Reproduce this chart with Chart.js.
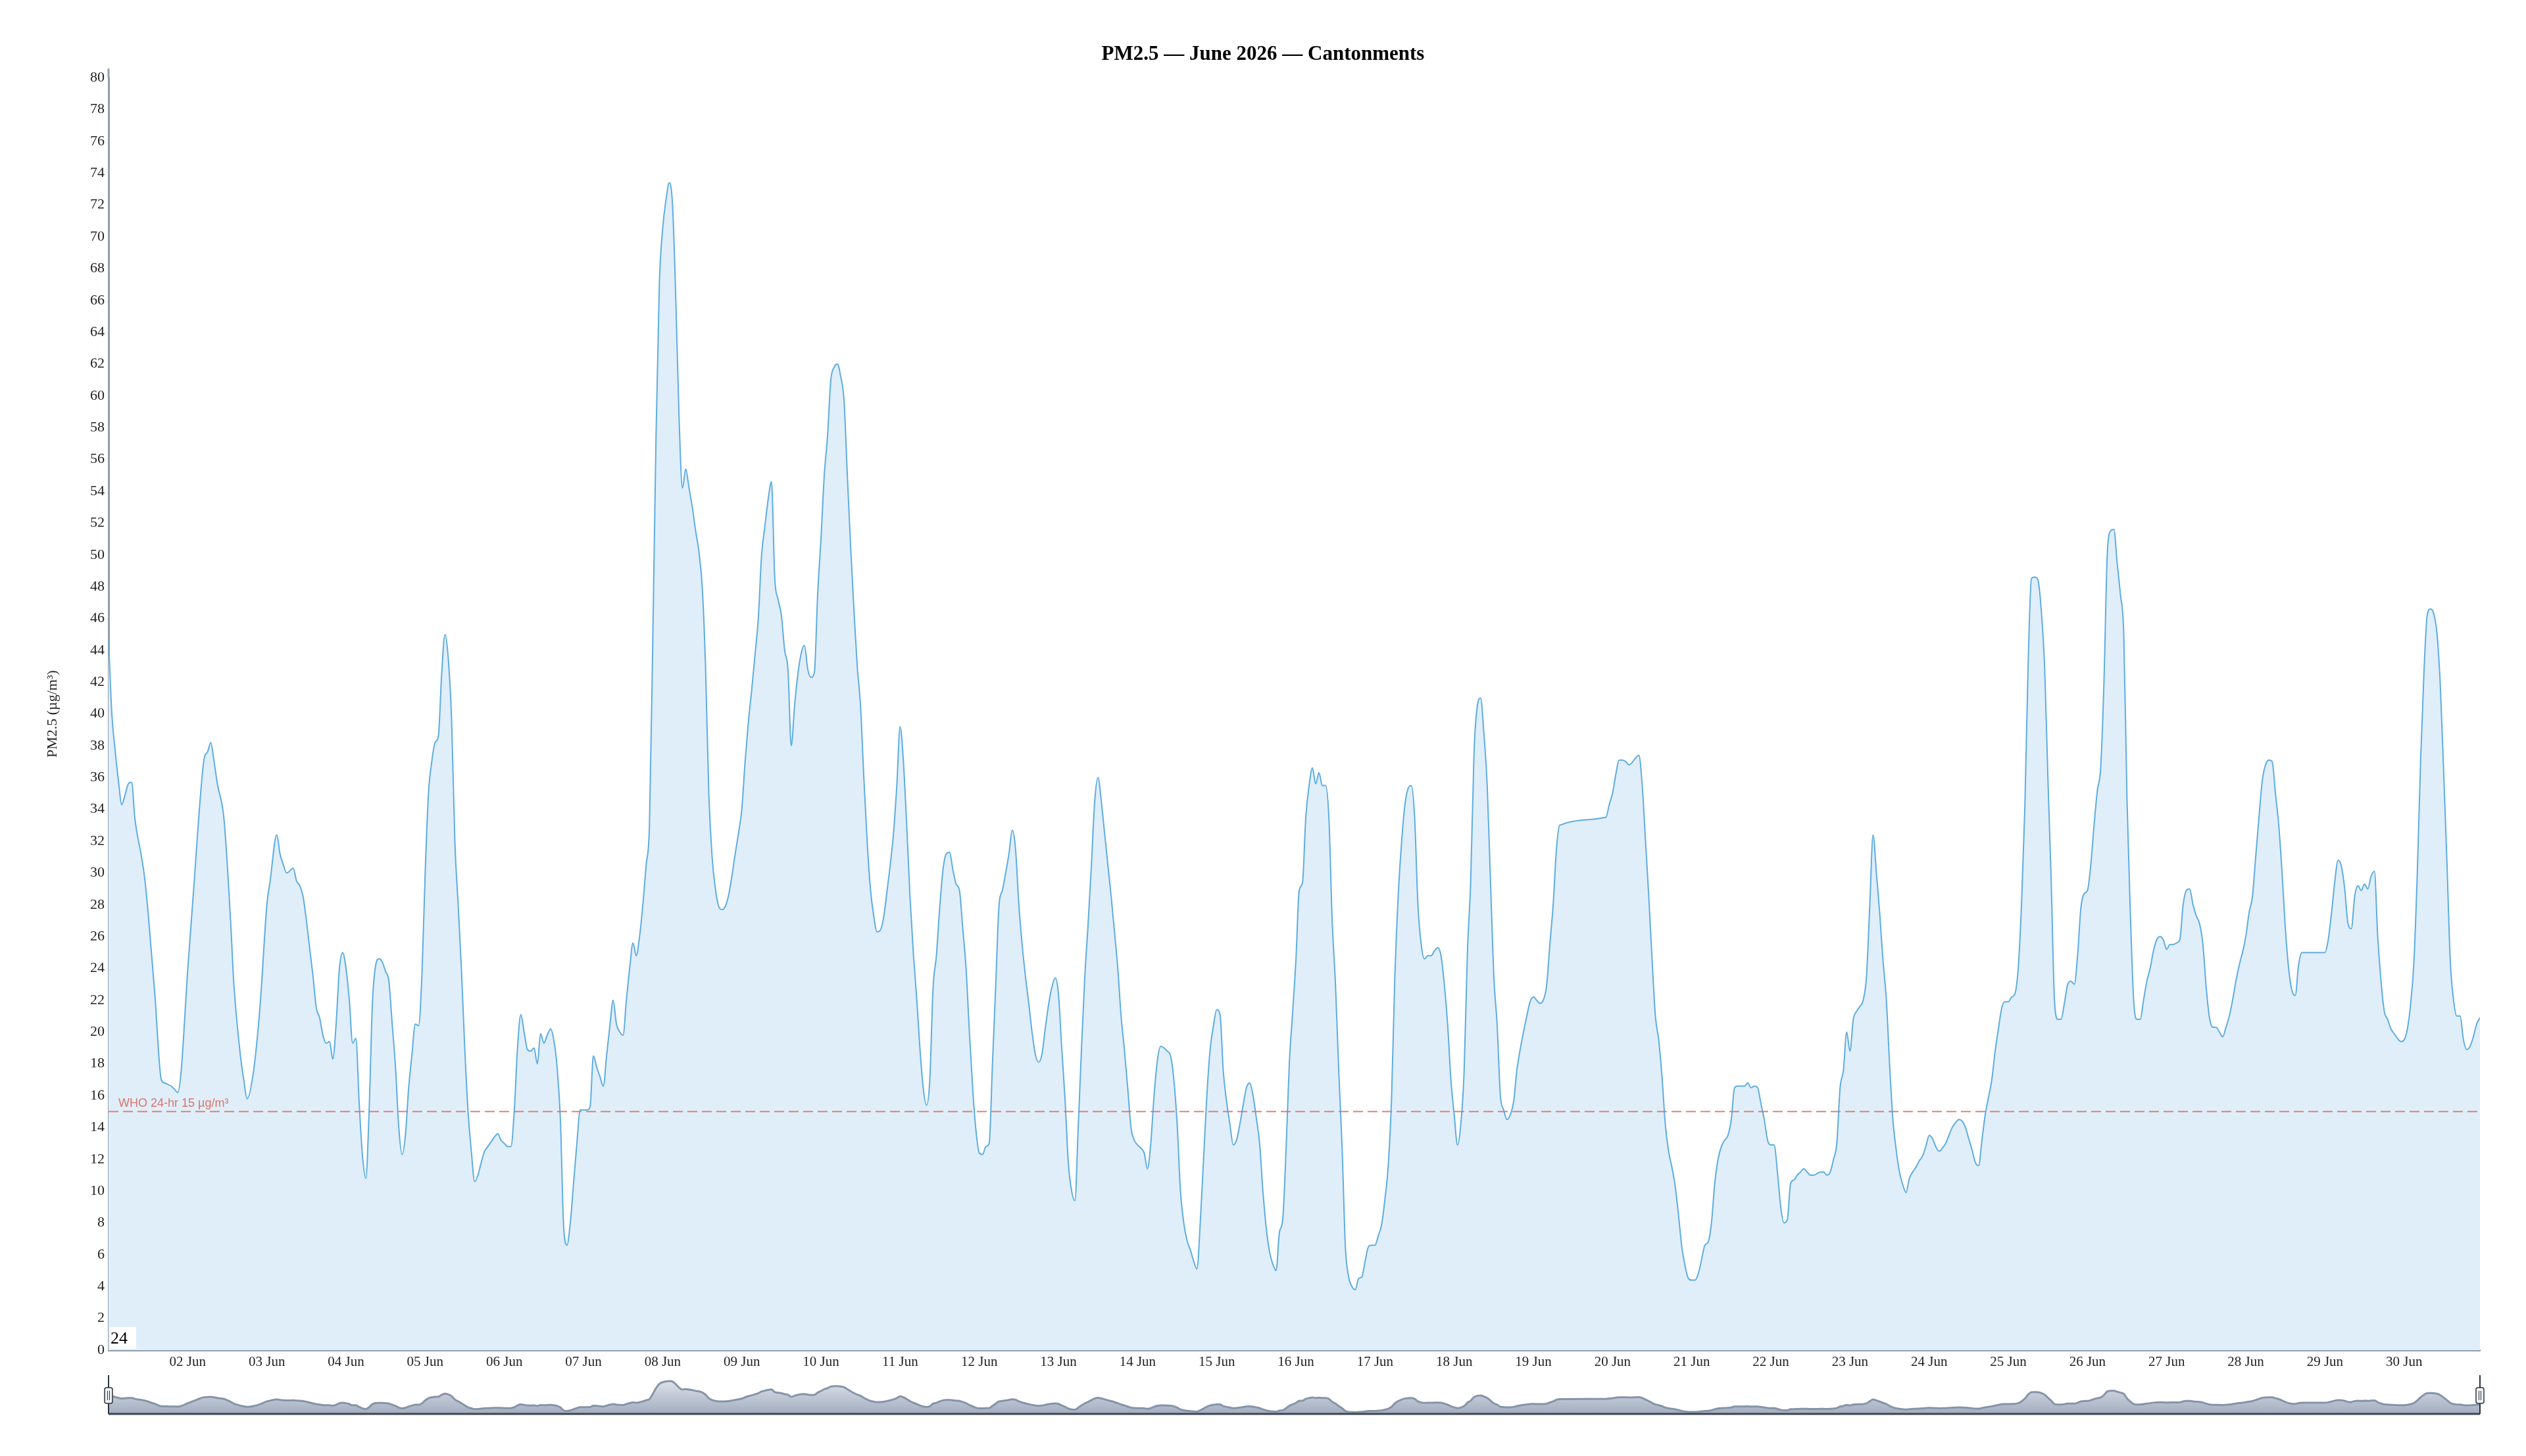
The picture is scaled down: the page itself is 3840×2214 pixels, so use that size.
<!DOCTYPE html>
<html>
<head>
<meta charset="utf-8">
<title>PM2.5 — June 2026 — Cantonments</title>
<script src="https://cdn.jsdelivr.net/npm/chart.js@4.4.1/dist/chart.umd.min.js"></script>
<style>
  html, body { margin: 0; padding: 0; background: #fff; }
  #wrap { position: relative; width: 3840px; height: 2214px; }
  #mainChart { position: absolute; left: 0; top: 0; }
  #navChart { position: absolute; left: 0; top: 2080px; }
</style>
</head>
<body>
<div id="wrap">
  <canvas id="mainChart" width="3840" height="2214"></canvas>
  <canvas id="navChart" width="3840" height="90"></canvas>
</div>
<script>
// Text
const chartTitle = 'PM2.5 — June 2026 — Cantonments';
const yTitle = 'PM2.5 (µg/m³)';
const whoLabel = 'WHO 24-hr 15 µg/m³';
const whoLimit = 15;
const cornerNote = '24';

// Hours since 01 Jun 00:00 (one row per day)
const hours = [
  0, 1, 2, 3, 4, 5, 6, 7, 8, 10, 11, 12, 14, 16, 17, 18, 19, 20, 21, 22,
  24, 26, 27, 29, 30, 31, 32, 33, 35, 37, 38, 40, 41, 42, 44, 46,
  48, 49, 51, 52, 53, 54, 56, 57, 58, 59, 60, 62, 63, 64, 65, 66, 67, 68, 69, 70, 71,
  72, 73, 74, 75, 76, 77, 78, 79, 80, 81, 82, 83, 84, 85, 86, 87, 88, 89, 90, 91, 92, 93, 94, 95,
  96, 97, 98, 99, 100, 101, 102, 103, 104, 105, 106, 107, 108, 109, 110, 111, 112, 113, 114, 115, 116, 117, 118, 119,
  120, 121, 122, 123, 124, 125, 126, 127, 128, 129, 130, 131, 132, 133, 134, 135, 136, 137, 138, 139, 140, 141, 142, 143,
  144, 145, 146, 147, 148, 149, 150, 151, 152, 153, 154, 155, 156, 157, 158, 159, 160, 161, 162, 163, 164, 165, 166, 167,
  168, 169, 170, 171, 172, 173, 174, 175, 176, 177, 178, 179, 180, 181, 182, 183, 184, 185, 186, 187, 188, 189, 190, 191,
  192, 193, 194, 195, 196, 197, 198, 199, 200, 201, 202, 203, 204, 205, 206, 207, 208, 209, 210, 211, 212, 213, 214, 215,
  216, 217, 218, 219, 220, 221, 222, 223, 224, 225, 226, 227, 228, 229, 230, 231, 232, 233, 234, 235, 236, 237, 238, 239,
  240, 241, 242, 243, 244, 245, 246, 247, 248, 249, 250, 251, 252, 253, 254, 255, 256, 257, 258, 259, 260, 261, 262, 263,
  264, 265, 266, 267, 268, 269, 270, 271, 272, 273, 274, 275, 276, 277, 278, 279, 280, 281, 282, 283, 284, 285, 286, 287,
  288, 289, 290, 291, 292, 293, 294, 295, 296, 297, 298, 299, 300, 301, 302, 303, 304, 305, 306, 307, 308, 309, 310, 311,
  312, 313, 314, 315, 316, 317, 318, 319, 320, 321, 322, 323, 324, 325, 326, 327, 328, 329, 330, 331, 332, 333, 334, 335,
  336, 337, 338, 339, 340, 341, 342, 343, 344, 345, 346, 347, 348, 349, 350, 351, 352, 353, 354, 355, 356, 357, 358, 359,
  360, 361, 362, 363, 364, 365, 366, 367, 368, 369, 370, 371, 372, 373, 374, 375, 376, 377, 378, 379, 380, 381, 382, 383,
  384, 385, 386, 387, 388, 389, 390, 391, 392, 393, 394, 395, 396, 397, 398, 399, 400, 401, 402, 403, 404, 405, 406, 407,
  408, 409, 410, 411, 412, 413, 414, 415, 416, 417, 418, 419, 420, 421, 422, 423, 424, 425, 426, 427, 428, 429, 430, 431,
  432, 433, 434, 435, 436, 437, 438, 439, 440, 454, 455,
  456, 457, 458, 459, 460, 461, 464, 465, 466, 467, 468, 469, 470, 471, 472, 473, 474, 475, 476, 477, 478, 479,
  480, 481, 482, 483, 484, 485, 486, 487, 488, 489, 490, 491, 492, 493, 494, 495, 496, 497, 498, 499, 500, 501, 502, 503,
  504, 505, 506, 507, 508, 509, 510, 511, 512, 513, 514, 515, 516, 517, 518, 519, 520, 521, 522, 523, 524, 525, 526, 527,
  528, 529, 530, 531, 532, 533, 534, 535, 536, 537, 538, 539, 540, 541, 542, 543, 544, 545, 546, 547, 548, 549, 550, 551,
  552, 553, 554, 555, 556, 557, 558, 559, 560, 561, 562, 563, 564, 565, 566, 567, 568, 569, 570, 571, 572, 573, 574, 575,
  576, 577, 578, 579, 580, 581, 582, 583, 584, 585, 586, 587, 588, 589, 590, 591, 592, 593, 594, 595, 596, 597, 598, 599,
  600, 601, 602, 603, 604, 605, 606, 607, 608, 609, 610, 611, 612, 613, 614, 615, 616, 617, 618, 619, 620, 621, 622, 623,
  624, 625, 626, 627, 628, 629, 630, 631, 632, 633, 634, 635, 636, 637, 638, 639, 640, 641, 642, 643, 644, 645, 646, 647,
  648, 649, 650, 651, 652, 653, 654, 655, 656, 657, 658, 659, 660, 661, 662, 663, 664, 665,
  672, 673, 674, 675, 676, 677, 678, 679, 680, 681, 682, 683, 684, 685, 686, 687, 688, 689, 690, 691, 692, 693, 694, 695,
  696, 697, 698, 699, 700, 701, 702, 703, 704, 705, 706, 707, 708, 709, 710, 711, 712, 713, 714, 715, 716, 717, 718, 719
];

// PM2.5 (µg/m³), same rows as hours
const pm25 = [
  44.7, 40.0, 37.7, 35.8, 34.3, 34.9, 35.6, 35.7, 33.4, 31.0, 29.6, 27.5, 22.5, 17.0, 16.8, 16.7, 16.6, 16.4, 16.2, 17.5,
  23.9, 29.5, 32.5, 37.2, 37.6, 38.2, 37.0, 35.6, 33.4, 27.0, 23.0, 18.5, 17.0, 15.8, 17.6, 21.8,
  28.0, 29.5, 32.4, 31.2, 30.5, 30.0, 30.3, 29.5, 29.2, 28.5, 27.0, 23.5, 21.5, 20.9, 19.8, 19.3, 19.4, 18.3, 20.5, 24.0, 25.0,
  24.0, 22.0, 19.3, 19.6, 15.5, 12.2, 10.8, 15.0, 21.8, 24.2, 24.6, 24.4, 23.8, 23.2, 20.5, 17.8, 14.0, 12.3, 13.5, 16.5, 18.6, 20.5, 20.4, 23.5,
  30.0, 35.0, 37.0, 38.2, 38.6, 42.5, 45.0, 43.5, 39.7, 32.0, 28.0, 23.9, 19.0, 15.0, 12.5, 10.6, 11.0, 11.8, 12.5, 12.8, 13.1, 13.4, 13.6, 13.2,
  13.0, 12.8, 12.8, 15.0, 19.0, 21.1, 20.0, 18.9, 18.8, 19.0, 18.0, 19.9, 19.3, 19.8, 20.2, 19.5, 17.8, 14.5, 7.7, 6.6, 8.0, 10.5, 13.0, 15.1,
  15.1, 15.1, 15.3, 18.5, 17.8, 17.2, 16.6, 18.5, 20.4, 22.0, 20.5, 20.0, 19.8, 22.0, 24.0, 25.6, 24.8, 26.0, 28.0, 30.5, 33.0, 44.5, 57.5, 67.0,
  70.5, 72.3, 73.4, 72.0, 66.0, 58.5, 54.2, 55.4, 54.2, 53.0, 51.5, 50.2, 48.0, 43.0, 35.0, 31.0, 29.0, 27.9, 27.7, 27.9, 28.6, 29.8, 31.2, 32.5,
  34.0, 37.0, 39.5, 41.5, 43.7, 46.0, 50.0, 51.8, 53.5, 54.6, 48.5, 47.2, 46.2, 44.0, 42.8, 38.0, 40.5, 42.5, 43.8, 44.3, 42.8, 42.3, 42.6, 47.5,
  51.0, 55.0, 57.5, 61.0, 61.8, 62.0, 61.2, 59.7, 55.0, 50.5, 46.5, 43.0, 40.5, 36.0, 32.0, 29.0, 27.3, 26.3, 26.4, 27.2, 28.8, 30.5, 32.5, 35.5,
  39.2, 37.0, 33.0, 28.5, 25.0, 22.2, 19.0, 16.5, 15.4, 17.0, 22.8, 24.8, 27.8, 30.2, 31.2, 31.3, 30.2, 29.3, 28.9, 26.5, 24.0, 20.0, 16.5, 13.8,
  12.4, 12.3, 12.8, 13.0, 18.0, 23.0, 28.0, 28.9, 30.0, 31.2, 32.7, 31.5, 28.0, 25.5, 23.5, 21.8, 20.0, 18.6, 18.1, 18.6, 20.2, 21.7, 22.8, 23.4,
  22.4, 19.0, 15.8, 11.8, 10.0, 9.4, 14.0, 19.0, 23.5, 26.8, 30.5, 34.5, 36.0, 34.5, 32.5, 30.5, 28.5, 26.3, 24.0, 21.0, 18.9, 16.5, 14.0, 13.2,
  12.9, 12.7, 12.4, 11.4, 13.0, 16.0, 18.2, 19.1, 19.0, 18.8, 18.5, 17.0, 14.2, 10.0, 8.0, 6.9, 6.3, 5.6, 5.1, 8.0, 12.0, 16.0, 18.9, 20.4,
  21.4, 21.1, 17.5, 15.6, 14.2, 12.9, 13.2, 14.2, 15.4, 16.5, 16.8, 16.0, 14.6, 13.0, 10.0, 7.7, 6.2, 5.4, 5.0, 7.4, 8.2, 12.5, 18.0, 21.2,
  24.5, 28.9, 29.4, 33.5, 35.5, 36.6, 35.6, 36.3, 35.5, 35.5, 33.5, 27.0, 23.0, 17.5, 12.8, 6.5, 4.6, 4.0, 3.8, 4.5, 4.6, 5.6, 6.5, 6.6,
  6.6, 7.2, 7.9, 9.5, 11.6, 15.8, 23.5, 28.5, 31.8, 34.2, 35.3, 35.5, 33.5, 28.0, 25.5, 24.6, 24.8, 24.8, 25.1, 25.3, 24.8, 23.0, 20.5, 17.0,
  14.8, 12.9, 14.2, 17.5, 25.0, 29.5, 37.5, 40.5, 41.0, 38.8, 35.5, 29.5, 23.5, 20.5, 16.0, 15.1, 14.5, 14.8, 15.6, 17.6, 18.9, 20.0, 21.0, 21.9,
  22.2, 22.0, 21.8, 22.0, 22.9, 25.5, 28.0, 31.5, 33.0, 33.5, 34.3,
  35.0, 36.2, 37.1, 37.1, 37.0, 36.8, 37.4, 35.5, 32.0, 28.5, 24.5, 21.0, 19.5, 17.2, 14.2, 12.5, 11.5, 10.3, 8.5, 6.5, 5.3, 4.5,
  4.4, 4.4, 4.8, 5.7, 6.6, 6.8, 8.0, 10.5, 12.0, 12.8, 13.2, 13.5, 14.5, 16.5, 16.6, 16.6, 16.6, 16.8, 16.5, 16.6, 16.5, 15.5, 14.5, 13.2,
  12.9, 12.9, 11.2, 9.0, 8.0, 8.2, 10.5, 10.7, 11.0, 11.2, 11.4, 11.2, 11.0, 11.0, 11.1, 11.2, 11.2, 11.0, 11.2, 12.0, 13.0, 16.5, 17.6, 20.0,
  18.8, 20.8, 21.3, 21.6, 22.0, 23.5, 28.0, 32.4, 30.0, 27.5, 24.5, 22.1, 18.0, 14.5, 12.6, 11.2, 10.4, 9.9, 10.8, 11.2, 11.5, 11.9, 12.2, 12.8,
  13.5, 13.3, 12.8, 12.5, 12.7, 13.0, 13.5, 14.0, 14.3, 14.5, 14.4, 14.0, 13.3, 12.6, 11.8, 11.6, 13.2, 14.8, 15.9, 17.0, 18.8, 20.2, 21.5, 21.9,
  21.9, 22.2, 22.4, 24.0, 28.0, 34.0, 43.0, 48.5, 48.6, 48.4, 46.5, 43.0, 36.0, 29.5, 22.0, 20.8, 20.8, 21.8, 23.0, 23.2, 23.0, 24.8, 27.8, 28.7,
  28.9, 30.5, 33.0, 35.2, 36.6, 42.0, 50.0, 51.5, 51.6, 49.5, 47.5, 45.0, 34.5, 27.5, 22.0, 20.8, 20.8, 22.0, 23.2, 24.0, 25.1, 25.8, 26.0, 25.8,
  25.2, 25.5, 25.5, 25.6, 25.8, 28.0, 28.9, 29.0, 28.0, 27.3, 26.8, 25.5, 22.8, 20.9, 20.3, 20.3, 20.0, 19.7, 20.3, 21.0, 22.0, 23.2, 24.2, 25.0,
  26.0, 27.5, 28.5, 31.0, 33.5, 35.8, 36.8, 37.1, 37.0, 35.0, 33.0, 30.0, 26.5, 24.0, 22.6, 22.3, 24.2, 25.0,
  25.0, 25.8, 27.5, 29.5, 30.8, 30.4, 29.0, 26.8, 26.5, 28.5, 29.2, 28.9, 29.3, 29.0, 29.8, 30.1, 26.0, 23.2, 21.3, 20.8, 20.2, 19.9, 19.6, 19.4,
  19.5, 20.2, 21.8, 24.5, 30.0, 37.0, 42.5, 46.2, 46.6, 46.3, 45.0, 41.7, 36.3, 30.6, 24.5, 22.0, 21.0, 21.0, 19.5, 18.9, 19.1, 19.7, 20.5, 20.9
];

// Day ticks on the x axis
const tickHours = [24, 48, 72, 96, 120, 144, 168, 192, 216, 240, 264, 288, 312, 336, 360,
  384, 408, 432, 456, 480, 504, 528, 552, 576, 600, 624, 648, 672, 696];
const tickLabels = ['02 Jun', '03 Jun', '04 Jun', '05 Jun', '06 Jun', '07 Jun', '08 Jun', '09 Jun', '10 Jun', '11 Jun',
  '12 Jun', '13 Jun', '14 Jun', '15 Jun', '16 Jun', '17 Jun', '18 Jun', '19 Jun', '20 Jun', '21 Jun',
  '22 Jun', '23 Jun', '24 Jun', '25 Jun', '26 Jun', '27 Jun', '28 Jun', '29 Jun', '30 Jun'];

if (hours.length !== pm25.length) {
  console.error('hours / pm25 length mismatch', hours.length, pm25.length);
}

const points = hours.map((h, i) => ({ x: h, y: pm25[i] }));
const firstHour = hours[0];
const lastHour = hours[hours.length - 1];

const SERIF = '"Liberation Serif", "Times New Roman", Times, serif';
const SANS = '"Liberation Sans", Arial, Helvetica, sans-serif';
const axisColor = '#929eac';

// WHO label sits just above the dashed line
const whoLabelPlugin = {
  id: 'whoLabel',
  afterDatasetsDraw(chart) {
    const { ctx, chartArea, scales } = chart;
    const y = scales.y.getPixelForValue(whoLimit);
    ctx.save();
    ctx.font = '18px ' + SANS;
    ctx.fillStyle = 'rgba(214, 104, 88, 0.9)';
    ctx.textBaseline = 'bottom';
    ctx.fillText(whoLabel, chartArea.left + 15, y - 3);
    ctx.restore();
  }
};

// boxed note in the bottom-left corner, plus the little axis stub above 80
const cornerNotePlugin = {
  id: 'cornerNote',
  afterDraw(chart) {
    const { ctx, chartArea } = chart;
    ctx.save();
    ctx.strokeStyle = axisColor;
    ctx.lineWidth = 3;
    ctx.beginPath();
    ctx.moveTo(chartArea.left, chartArea.top - 14);
    ctx.lineTo(chartArea.left, chartArea.top);
    ctx.stroke();

    ctx.fillStyle = '#fff';
    ctx.fillRect(chartArea.left + 2, chartArea.bottom - 35, 40, 33);
    ctx.font = '26px ' + SERIF;
    ctx.fillStyle = '#000';
    ctx.textBaseline = 'alphabetic';
    ctx.fillText(cornerNote, chartArea.left + 3, chartArea.bottom - 10);
    ctx.restore();
  }
};

const mainChart = new Chart(document.getElementById('mainChart'), {
  type: 'line',
  data: {
    datasets: [{
      label: 'PM2.5',
      data: points,
      borderColor: '#5dade2',
      backgroundColor: '#e0eefa',
      borderWidth: 2,
      fill: 'origin',
      pointRadius: 0,
      cubicInterpolationMode: 'monotone',
      order: 2
    }, {
      label: whoLabel,
      data: [{ x: firstHour, y: whoLimit }, { x: lastHour, y: whoLimit }],
      borderColor: 'rgba(222, 110, 95, 0.85)',
      borderWidth: 2,
      borderDash: [15, 7],
      pointRadius: 0,
      fill: false,
      order: 1
    }]
  },
  options: {
    responsive: false,
    animation: false,
    layout: { padding: 0 },
    plugins: {
      legend: { display: false },
      tooltip: { enabled: false },
      title: {
        display: true,
        text: chartTitle,
        color: '#000',
        font: { family: SERIF, size: 31, weight: 'bold', lineHeight: 1.2 },
        padding: { top: 64, bottom: 17 }
      }
    },
    scales: {
      x: {
        type: 'linear',
        min: firstHour,
        max: lastHour,
        afterFit(scale) { scale.height = 161; },
        afterBuildTicks(scale) { scale.ticks = tickHours.map(v => ({ value: v })); },
        grid: { display: false, drawTicks: false },
        border: { display: true, color: axisColor, width: 3 },
        ticks: {
          autoSkip: false,
          maxRotation: 0,
          padding: 6,
          color: '#222',
          font: { family: SERIF, size: 21 },
          callback: (value, index) => tickLabels[index]
        }
      },
      y: {
        min: 0,
        max: 80,
        afterFit(scale) { scale.width = 165; },
        grid: { display: false, drawTicks: false },
        border: { display: true, color: axisColor, width: 3 },
        ticks: { stepSize: 2, padding: 6, color: '#222', font: { family: SERIF, size: 22 } },
        title: {
          display: true,
          text: yTitle,
          color: '#222',
          font: { family: SERIF, size: 22 },
          padding: { top: 67, bottom: 0 }
        }
      },
      // empty right-hand margin so the title stays centred on the page
      yRight: {
        position: 'right',
        min: 0,
        max: 80,
        afterFit(scale) { scale.width = 70; },
        grid: { display: false, drawTicks: false },
        border: { display: false },
        ticks: { display: false }
      }
    }
  },
  plugins: [whoLabelPlugin, cornerNotePlugin]
});

// overview strip under the chart: baseline and the two range handles
const navDecorPlugin = {
  id: 'navDecor',
  afterDatasetsDraw(chart) {
    const { ctx, chartArea: a } = chart;
    ctx.save();
    ctx.strokeStyle = '#3e4550';
    ctx.lineWidth = 3;
    ctx.beginPath();
    ctx.moveTo(a.left, a.bottom);
    ctx.lineTo(a.right, a.bottom);
    ctx.stroke();
    [a.left, a.right].forEach(x => {
      ctx.strokeStyle = '#2e343d';
      ctx.lineWidth = 2;
      ctx.beginPath();
      ctx.moveTo(x, a.top - 1);
      ctx.lineTo(x, a.bottom);
      ctx.stroke();
      const w = 12, h = 24, top = a.top + 18;
      ctx.beginPath();
      ctx.roundRect(x - w / 2, top, w, h, 3);
      ctx.fillStyle = '#eef0f3';
      ctx.fill();
      ctx.lineWidth = 1.5;
      ctx.strokeStyle = '#2e343d';
      ctx.stroke();
      ctx.lineWidth = 1;
      ctx.beginPath();
      ctx.moveTo(x - 1.5, top + 5); ctx.lineTo(x - 1.5, top + h - 5);
      ctx.moveTo(x + 1.5, top + 5); ctx.lineTo(x + 1.5, top + h - 5);
      ctx.stroke();
    });
    ctx.restore();
  }
};

const navChart = new Chart(document.getElementById('navChart'), {
  type: 'line',
  data: {
    datasets: [{
      data: points,
      borderColor: '#8694a9',
      borderWidth: 3,
      pointRadius: 0,
      fill: 'origin',
      cubicInterpolationMode: 'monotone',
      backgroundColor(context) {
        const { ctx, chartArea } = context.chart;
        if (!chartArea) return '#c7ceda';
        const g = ctx.createLinearGradient(0, chartArea.top, 0, chartArea.bottom);
        g.addColorStop(0, '#e6e9ef');
        g.addColorStop(1, '#a2adbf');
        return g;
      }
    }]
  },
  options: {
    responsive: false,
    animation: false,
    layout: { padding: { left: 165, right: 70, top: 12, bottom: 20 } },
    plugins: { legend: { display: false }, tooltip: { enabled: false } },
    scales: {
      x: { type: 'linear', display: false, min: firstHour, max: lastHour },
      y: { display: false, min: 0, max: 85 }
    }
  },
  plugins: [navDecorPlugin]
});
</script>
</body>
</html>
